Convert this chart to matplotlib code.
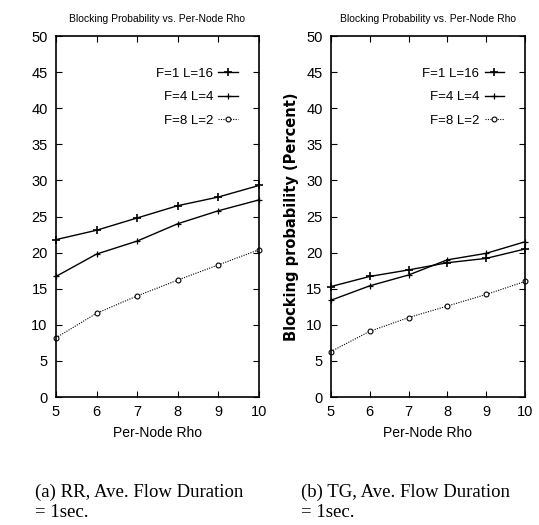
import matplotlib
matplotlib.use("Agg")
import matplotlib.pyplot as plt

# per-node rho values
rho = [5, 6, 7, 8, 9, 10]

# (a) RR
rr_f1_l16 = [21.8, 23.1, 24.8, 26.5, 27.7, 29.3]
rr_f4_l4 = [16.7, 19.8, 21.6, 24.0, 25.8, 27.3]
rr_f8_l2 = [8.2, 11.6, 14.0, 16.2, 18.3, 20.4]

# (b) TG
tg_f1_l16 = [15.3, 16.7, 17.6, 18.6, 19.2, 20.5]
tg_f4_l4 = [13.4, 15.4, 16.9, 19.0, 19.9, 21.5]
tg_f8_l2 = [6.3, 9.1, 11.0, 12.6, 14.2, 16.0]

labels = ["F=1 L=16", "F=4 L=4", "F=8 L=2"]
captions = ["(a) RR, Ave. Flow Duration\n= 1sec.", "(b) TG, Ave. Flow Duration\n= 1sec."]

narrow = ["Liberation Sans", "DejaVu Sans"]

fig = plt.figure(figsize=(5.39, 5.25), dpi=100)
ax1 = fig.add_axes([0.1039, 0.2438, 0.3766, 0.6876])
ax2 = fig.add_axes([0.614, 0.2438, 0.360, 0.6876])


def draw(ax, s1, s2, s3, caption, cap_x):
    ax.plot(rho, s1, color="black", lw=1.0, marker="+", ms=6, mew=1.2, clip_on=False, label=labels[0])
    ax.plot(rho, s2, color="black", lw=1.0, marker="+", ms=5, mew=0.9, clip_on=False, label=labels[1])
    ax.plot(rho, s3, color="black", lw=0.8, ls=(0, (1, 1.2)), marker="o", ms=3.5, mfc="white",
            mew=0.8, clip_on=False, label=labels[2])
    ax.set_xlim(5, 10)
    ax.set_ylim(0, 50)
    ax.set_xticks(rho)
    ax.set_yticks(range(0, 51, 5))
    ax.tick_params(direction="in", top=True, right=True, length=4, width=0.8, pad=6)
    for t in ax.get_xticklabels() + ax.get_yticklabels():
        t.set_family(narrow)
        t.set_fontsize(10.5)
    for sp in ax.spines.values():
        sp.set_linewidth(1.2)
    ax.set_title("Blocking Probability vs. Per-Node Rho", family=narrow, fontsize=7.5, pad=10)
    ax.set_xlabel("Per-Node Rho", family=narrow, fontsize=10, labelpad=5)
    leg = ax.legend(loc="upper right", bbox_to_anchor=(0.955, 0.945), frameon=False, markerfirst=False,
                    handlelength=1.5, handletextpad=0.4, labelspacing=0.85,
                    prop={"family": narrow, "size": 9.5})
    for t in leg.get_texts():
        t.set_ha("right")
    ax.text(cap_x, -0.24, caption, transform=ax.transAxes, ha="left", va="top",
            family="Liberation Serif", fontsize=13.5, linespacing=1.2)


draw(ax1, rr_f1_l16, rr_f4_l4, rr_f8_l2, captions[0], -0.103)
draw(ax2, tg_f1_l16, tg_f4_l4, tg_f8_l2, captions[1], -0.155)
ax2.set_ylabel("Blocking probability (Percent)", fontsize=10.5, fontweight="bold", labelpad=5)

plt.savefig("out.png", dpi=100)
